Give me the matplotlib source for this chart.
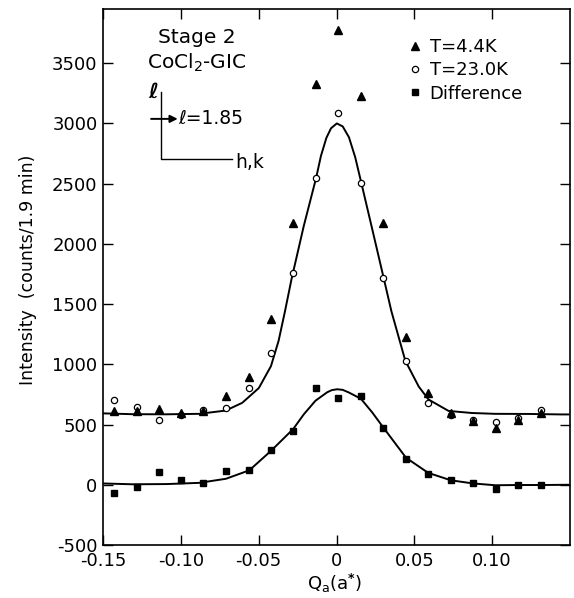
import matplotlib
matplotlib.use("Agg")
import matplotlib.pyplot as plt
import numpy as np

plt.rcParams['font.family'] = ['DejaVu Sans']
plt.rcParams['axes.unicode_minus'] = False
plt.rcParams['mathtext.fontset'] = 'dejavusans'

# ---------------- data ----------------
q = [-0.1431, -0.1284, -0.1142, -0.0999, -0.0856, -0.0710, -0.0563, -0.0418,
     -0.0277, -0.0131, 0.0012, 0.0159, 0.0300, 0.0447, 0.0588, 0.0734,
     0.0877, 0.1022, 0.1163, 0.1311]

t_4p4 = [616, 616, 626, 597, 615, 736, 895, 1375, 2172, 3326, 3777, 3225,
         2176, 1227, 766, 600, 528, 474, 536, 597]
t_23 = [706, 647, 536, 578, 619, 635, 803, 1097, 1756, 2547, 3084, 2508,
        1717, 1025, 681, 581, 537, 523, 558, 619]
diff = [-65, -17, 110, 39, 16, 111, 123, 288, 447, 801, 720, 733, 474, 215,
        91, 40, 11, -37, -2, -2]

upper_x = [-0.1503, -0.1312, -0.1096, -0.0883, -0.0712, -0.0606, -0.0499,
           -0.0421, -0.0372, -0.0331, -0.0289, -0.0210, -0.0131, -0.0100,
           -0.0065, -0.0035, 0.0002, 0.0040, 0.0080, 0.0120, 0.0159, 0.0230,
           0.0303, 0.0353, 0.0442, 0.0528, 0.0591, 0.0720, 0.0869, 0.1018,
           0.1232, 0.1445, 0.1490]
upper_y = [593, 586, 585, 589, 616, 680, 803, 985, 1195, 1440, 1707, 2150,
           2547, 2730, 2880, 2960, 3000, 2975, 2885, 2720, 2509, 2120, 1717,
           1439, 1030, 816, 708, 613, 596, 589, 588, 584, 584]

lower_x = [-0.1503, -0.1310, -0.1088, -0.0881, -0.0710, -0.0560, -0.0418,
           -0.0278, -0.0210, -0.0135, -0.0060, -0.0030, 0.0005, 0.0040,
           0.0078, 0.0157, 0.0230, 0.0297, 0.0447, 0.0589, 0.0735, 0.0878,
           0.1021, 0.1164, 0.1320, 0.1490]
lower_y = [11, 4, 6, 16, 50, 120, 285, 463, 585, 698, 768, 786, 793, 788,
           767, 714, 600, 482, 224, 99, 37, 11, -4, -2, -2, 0]

xticks = [-0.15, -0.10, -0.05, 0.0, 0.05, 0.10]
xtick_labels = ["-0.15", "-0.10", "-0.05", "0", "0.05", "0.10"]
yticks = [-500, 0, 500, 1000, 1500, 2000, 2500, 3000, 3500]
series_labels = ["T=4.4K", "T=23.0K", "Difference"]

# ---------------- figure ----------------
fig = plt.figure(figsize=(5.74, 5.98), dpi=100)
ax = fig.add_axes([103/574, 1-545/598, 467/574, 536/598])

ax.plot(upper_x, upper_y, color='k', lw=1.4, zorder=2)
ax.plot(lower_x, lower_y, color='k', lw=1.4, zorder=2)

h2, = ax.plot(q, t_23, ls='none', marker='o', ms=4.5, mfc='white', mec='k',
              mew=0.9, zorder=3)
h1, = ax.plot(q, t_4p4, ls='none', marker='^', ms=6, color='k', zorder=4)
h3, = ax.plot(q, diff, ls='none', marker='s', ms=5, color='k', zorder=4)

ax.set_xlim(-0.15, 0.15)
ax.set_ylim(-500, 3950)
ax.set_xticks(xticks)
ax.set_xticklabels(xtick_labels)
ax.set_yticks(yticks)
ax.set_yticklabels([str(v) for v in yticks])

ax.tick_params(direction='in', length=7, width=1.0, top=True, right=True,
               labelsize=13)
ax.tick_params(axis='x', pad=5)
ax.tick_params(axis='y', pad=4)
for s in ax.spines.values():
    s.set_linewidth(1.2)

ax.set_ylabel("Intensity  (counts/1.9 min)", fontsize=12.5)
ax.yaxis.set_label_coords(-0.141, 0.513)
ax.set_xlabel(r"Q$_\mathregular{a}$(a$^{\mathbf{*}}$)", fontsize=13)
ax.xaxis.set_label_coords(0.497, -0.050)

leg = ax.legend([h1, h2, h3], series_labels, loc='upper left',
                bbox_to_anchor=(0.649, 0.946), frameon=False, fontsize=13,
                handlelength=1.0, handletextpad=0.3, labelspacing=0.3,
                borderpad=0, borderaxespad=0, numpoints=1)

# inset annotation
ax.text(0.201, 0.946, "Stage 2", transform=ax.transAxes, ha='center',
        va='center', fontsize=14.5)
ax.text(0.201, 0.899, r"CoCl$_2$-GIC", transform=ax.transAxes, ha='center',
        va='center', fontsize=14.5)
ax.text(0.107, 0.845, "\u2113", transform=ax.transAxes, ha='center',
        va='center', fontsize=15, style='italic', fontweight='bold')
ax.plot([0.124, 0.124, 0.276], [0.845, 0.720, 0.720], color='k', lw=1.0,
        transform=ax.transAxes, clip_on=False)
ax.text(0.283, 0.713, "h,k", transform=ax.transAxes, ha='left', va='center',
        fontsize=13.5)
ax.annotate('', xy=(0.160, 0.795), xytext=(0.103, 0.795),
            xycoords='axes fraction',
            arrowprops=dict(arrowstyle='-|>', color='k', lw=1.4,
                            mutation_scale=11, shrinkA=0, shrinkB=0))
ax.text(0.161, 0.795, "\u2113=1.85", transform=ax.transAxes, ha='left',
        va='center', fontsize=13.5)

fig.savefig("out.png", dpi=100)
